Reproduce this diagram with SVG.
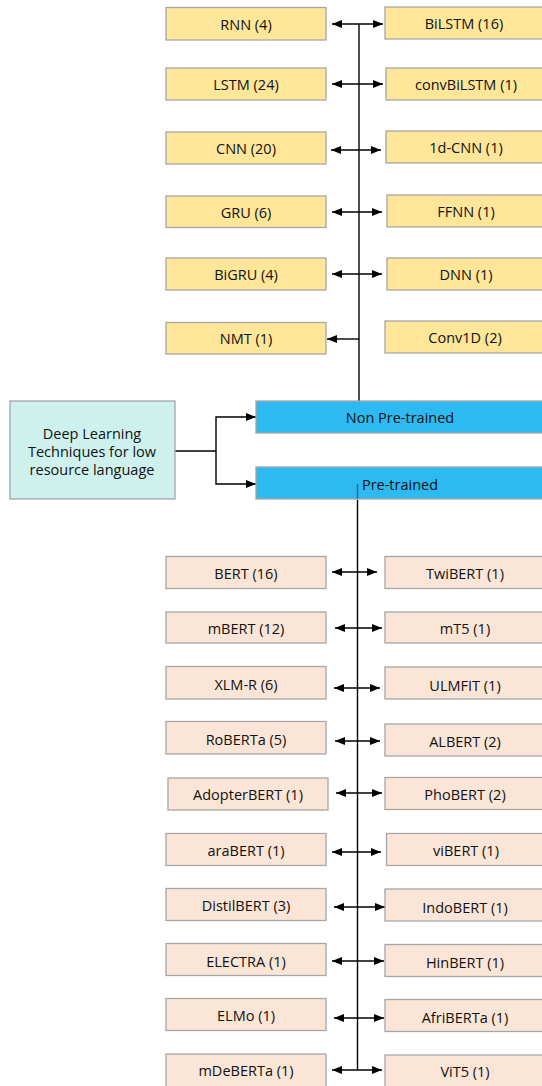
<svg xmlns="http://www.w3.org/2000/svg" width="542" height="1086" viewBox="0 0 542 1086">
<style>
.y{fill:#ffe699;stroke:#a6a6a6;stroke-width:1.3}
.p{fill:#fbe5d6;stroke:#a6a6a6;stroke-width:1.3}
.b{fill:#2dbaf1;stroke:#a6a6a6;stroke-width:1.3}
.g{fill:#cff1ee;stroke:#a6a6a6;stroke-width:1.3}
text{font-family:"Open Sans","Noto Sans","Liberation Sans",sans-serif;font-size:14.5px;fill:#111;text-anchor:middle;dominant-baseline:central}
.c{stroke:#000;stroke-width:1.4;fill:none}
.a{stroke:#000;stroke-width:1.4;fill:none;marker-end:url(#ah)}
.d{stroke:#000;stroke-width:1.4;fill:none;marker-start:url(#ahs);marker-end:url(#ah)}
</style>
<defs>
<marker id="ah" viewBox="0 0 10 8" refX="10" refY="4" markerWidth="10" markerHeight="8" markerUnits="userSpaceOnUse" orient="auto"><path d="M0,0L10,4L0,8z" fill="#000"/></marker>
<marker id="ahs" viewBox="0 0 10 8" refX="0" refY="4" markerWidth="10" markerHeight="8" markerUnits="userSpaceOnUse" orient="auto"><path d="M10,0L0,4L10,8z" fill="#000"/></marker>
</defs>
<g id="connectors">
<path class="c" d="M175,451H216"/>
<path class="a" d="M216,451V417H256"/>
<path class="a" d="M216,451V484H256"/>
<path class="c" d="M359,24V401"/>
<path class="d" d="M332,24H383"/>
<path class="d" d="M332,84H383"/>
<path class="d" d="M331,150H381"/>
<path class="d" d="M332,212H382"/>
<path class="d" d="M332,274H382"/>
<path class="a" d="M359,339H327"/>
<path class="c" d="M357.5,500V1070"/>
<path class="d" d="M332,572H377"/>
<path class="d" d="M335,628H382"/>
<path class="d" d="M334,688H380"/>
<path class="d" d="M335,741H380"/>
<path class="d" d="M336,793H382"/>
<path class="d" d="M332,852H381"/>
<path class="d" d="M334,907H385"/>
<path class="d" d="M332,961H384"/>
<path class="d" d="M334,1018H384"/>
<path class="d" d="M332,1070H382"/>
</g>
<g id="root"><rect class="g" x="10" y="401" width="165" height="98"/><text x="92" y="433">Deep Learning</text><text x="92" y="451">Techniques for low</text><text x="92" y="469">resource language</text></g>
<g id="nonpre"><rect class="b" x="256" y="401" width="290" height="32"/><text x="400" y="417">Non Pre-trained</text></g>
<g id="pre"><rect class="b" x="256" y="467" width="290" height="32"/><path d="M357.5,484V499" stroke="#1f6a8e" stroke-width="1.4"/><text x="400" y="484">Pre-trained</text></g>
<g id="rnn"><rect class="y" x="166" y="7.5" width="160" height="32.5"/><text x="246" y="24">RNN (4)</text></g>
<g id="bilstm"><rect class="y" x="385" y="7" width="160" height="32"/><text x="464" y="23">BiLSTM (16)</text></g>
<g id="lstm"><rect class="y" x="166" y="68" width="160" height="32"/><text x="246" y="84">LSTM (24)</text></g>
<g id="convbilstm"><rect class="y" x="386" y="68" width="160" height="32"/><text x="466" y="84">convBiLSTM (1)</text></g>
<g id="cnn"><rect class="y" x="166" y="132" width="160" height="32"/><text x="246" y="148">CNN (20)</text></g>
<g id="cnn1d"><rect class="y" x="386" y="131" width="160" height="32"/><text x="466" y="147">1d-CNN (1)</text></g>
<g id="gru"><rect class="y" x="166" y="196" width="160" height="31.5"/><text x="246" y="212">GRU (6)</text></g>
<g id="ffnn"><rect class="y" x="387" y="195" width="160" height="32"/><text x="466" y="211">FFNN (1)</text></g>
<g id="bigru"><rect class="y" x="166" y="258" width="160" height="32"/><text x="246" y="274">BiGRU (4)</text></g>
<g id="dnn"><rect class="y" x="387" y="258" width="160" height="32"/><text x="466" y="274">DNN (1)</text></g>
<g id="nmt"><rect class="y" x="166" y="322.5" width="160" height="31.5"/><text x="246" y="338">NMT (1)</text></g>
<g id="conv1d"><rect class="y" x="385" y="321" width="160" height="32"/><text x="465" y="337">Conv1D (2)</text></g>
<g id="bert"><rect class="p" x="166" y="556.5" width="160" height="32"/><text x="246" y="573">BERT (16)</text></g>
<g id="twibert"><rect class="p" x="385" y="556.5" width="160" height="32"/><text x="465" y="573">TwiBERT (1)</text></g>
<g id="mbert"><rect class="p" x="166" y="612" width="160" height="31"/><text x="246" y="628">mBERT (12)</text></g>
<g id="mt5"><rect class="p" x="385" y="612" width="160" height="31"/><text x="465" y="628">mT5 (1)</text></g>
<g id="xlmr"><rect class="p" x="166" y="666.5" width="160" height="32.5"/><text x="246" y="684">XLM-R (6)</text></g>
<g id="ulmfit"><rect class="p" x="385" y="667" width="160" height="32"/><text x="465" y="685">ULMFIT (1)</text></g>
<g id="roberta"><rect class="p" x="166" y="721.5" width="160" height="32.5"/><text x="246" y="739">RoBERTa (5)</text></g>
<g id="albert"><rect class="p" x="385" y="724" width="160" height="32"/><text x="465" y="741">ALBERT (2)</text></g>
<g id="adopterbert"><rect class="p" x="168" y="778" width="160" height="32"/><text x="248" y="794">AdopterBERT (1)</text></g>
<g id="phobert"><rect class="p" x="385" y="777.5" width="160" height="32"/><text x="465" y="794">PhoBERT (2)</text></g>
<g id="arabert"><rect class="p" x="166" y="833.5" width="160" height="32"/><text x="246" y="850">araBERT (1)</text></g>
<g id="vibert"><rect class="p" x="386.5" y="833.5" width="160" height="32"/><text x="466" y="850">viBERT (1)</text></g>
<g id="distilbert"><rect class="p" x="166" y="888.5" width="160" height="32"/><text x="246" y="905">DistilBERT (3)</text></g>
<g id="indobert"><rect class="p" x="385" y="889" width="160" height="32"/><text x="465" y="907">IndoBERT (1)</text></g>
<g id="electra"><rect class="p" x="166" y="943.5" width="160" height="32"/><text x="246" y="961">ELECTRA (1)</text></g>
<g id="hinbert"><rect class="p" x="385" y="944.5" width="160" height="32"/><text x="465" y="962">HinBERT (1)</text></g>
<g id="elmo"><rect class="p" x="166" y="998.5" width="160" height="32"/><text x="246" y="1015">ELMo (1)</text></g>
<g id="afriberta"><rect class="p" x="385" y="999.5" width="160" height="32"/><text x="465" y="1017">AfriBERTa (1)</text></g>
<g id="mdeberta"><rect class="p" x="166" y="1054" width="160" height="34"/><text x="246" y="1070">mDeBERTa (1)</text></g>
<g id="vit5"><rect class="p" x="385" y="1055" width="160" height="34"/><text x="465" y="1071">ViT5 (1)</text></g>
</svg>
